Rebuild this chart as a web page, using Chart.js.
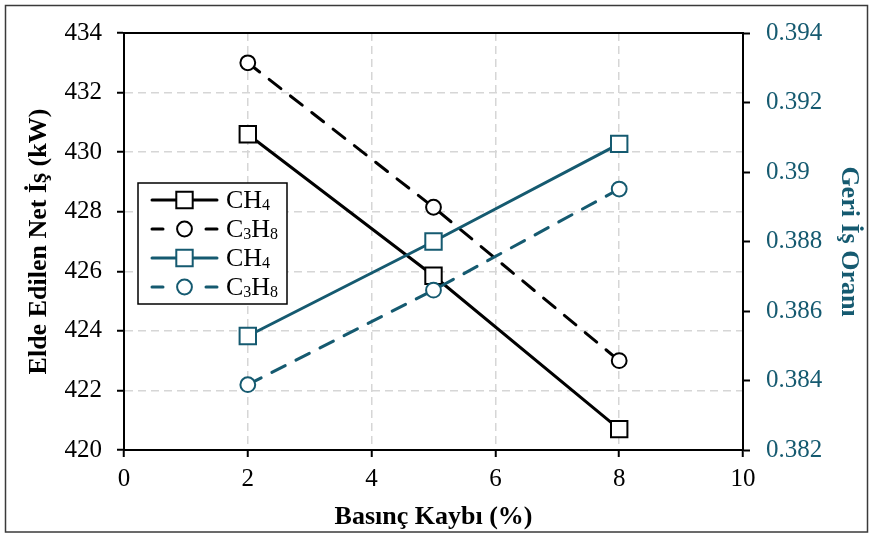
<!DOCTYPE html>
<html lang="tr">
<head>
  <meta charset="utf-8" />
  <title>Basınç Kaybı</title>
  <script src="https://cdn.jsdelivr.net/npm/chart.js@4.4.1/dist/chart.umd.min.js"></script>
  <style>
    html, body { margin: 0; padding: 0; background: #fff; }
    #wrap { position: relative; width: 869px; height: 535px; }
  </style>
</head>
<body>
  <div id="wrap"><canvas id="chart"></canvas></div>

  <script>
    // values
    const pressureLoss = [2, 5, 8];
    const netWorkCH4 = [430.6, 425.85, 420.7];
    const netWorkC3H8 = [433.0, 428.15, 423.0];
    const bwrCH4 = [0.38528, 0.38800, 0.39081];
    const bwrC3H8 = [0.38388, 0.38660, 0.38951];

    const xRange = [0, 10, 2];
    const leftRange = [420, 434, 2];
    const rightRange = [0.382, 0.394, 0.002];

    const BLACK = '#000000';
    const TEAL = '#155a70';
    const SERIF = '"Liberation Serif", "Times New Roman", serif';

    const pts = ys => pressureLoss.map((x, i) => ({ x, y: ys[i] }));

    const series = (label, data, color, axis, style, dashed, order) => ({
      label, data: pts(data), yAxisID: axis, order,
      showLine: true,
      borderColor: color, borderWidth: 3,
      borderDash: dashed ? [15, 12] : [],
      borderCapStyle: 'round',
      pointStyle: style,
      pointRadius: style === 'rect' ? 11.6 : 7.4,
      pointHoverRadius: style === 'rect' ? 11.6 : 7.4,
      pointBackgroundColor: '#fff',
      pointBorderColor: color,
      pointBorderWidth: 2
    });

    const datasets = [
      series('CH₄', netWorkCH4, BLACK, 'y', 'rect', false, 4),
      series('C₃H₈', netWorkC3H8, BLACK, 'y', 'circle', true, 3),
      series('CH₄', bwrCH4, TEAL, 'y2', 'rect', false, 2),
      series('C₃H₈', bwrC3H8, TEAL, 'y2', 'circle', true, 1)
    ];

    // text with subscript digits (₀-₉) drawn smaller and lowered
    const drawChem = (ctx, text, x, y) => {
      const subs = '₀₁₂₃₄₅₆₇₈₉';
      let cx = x;
      for (const ch of text) {
        const k = subs.indexOf(ch);
        if (k >= 0) {
          ctx.font = `16px ${SERIF}`;
          ctx.fillText(String(k), cx, y + 5);
          cx += ctx.measureText(String(k)).width;
        } else {
          ctx.font = `26px ${SERIF}`;
          ctx.fillText(ch, cx, y);
          cx += ctx.measureText(ch).width;
        }
      }
    };

    const framePlugin = {
      id: 'frame',
      beforeDatasetsDraw(chart) {
        const { ctx, chartArea: a } = chart;
        ctx.save();
        ctx.strokeStyle = BLACK;
        ctx.lineWidth = 2;
        ctx.beginPath();
        ctx.moveTo(a.left - 1, a.top);
        ctx.lineTo(a.right + 1, a.top);
        ctx.stroke();
        ctx.restore();
      },
      afterDraw(chart) {
        const { ctx } = chart;
        ctx.save();
        ctx.strokeStyle = '#3a3a3a';
        ctx.lineWidth = 1.5;
        ctx.strokeRect(5.5, 5.5, 862, 526.5);

        // legend box
        const bx = 138, by = 183, bw = 149, bh = 121;
        ctx.fillStyle = '#fff';
        ctx.fillRect(bx, by, bw, bh);
        ctx.strokeStyle = BLACK;
        ctx.lineWidth = 1.5;
        ctx.strokeRect(bx, by, bw, bh);

        chart.data.datasets.forEach((ds, i) => {
          const cy = by + 17 + i * 29;
          ctx.strokeStyle = ds.borderColor;
          ctx.lineWidth = 3;
          ctx.lineCap = 'round';
          ctx.beginPath();
          if (ds.borderDash.length) {
            ctx.moveTo(152, cy); ctx.lineTo(163, cy);
            ctx.moveTo(206, cy); ctx.lineTo(217, cy);
          } else {
            ctx.moveTo(152, cy); ctx.lineTo(217, cy);
          }
          ctx.stroke();
          ctx.fillStyle = '#fff';
          ctx.lineWidth = 2;
          Chart.helpers.drawPoint(ctx, {
            pointStyle: ds.pointStyle, radius: ds.pointRadius, borderWidth: 2
          }, 184.5, cy);
          ctx.fillStyle = BLACK;
          ctx.textBaseline = 'middle';
          ctx.textAlign = 'left';
          drawChem(ctx, ds.label, 226, cy + 1);
        });
        ctx.restore();
      }
    };

    const gridStyle = {
      color: '#d6d6d6', lineWidth: 1.5,
      tickColor: BLACK, tickWidth: 2, tickLength: 7, tickBorderDash: []
    };
    const border = { display: true, color: BLACK, width: 2, dash: [8, 5] };
    const tickFont = { family: SERIF, size: 25 };
    const titleFont = { family: SERIF, size: 26, weight: 'bold' };

    new Chart(document.getElementById('chart'), {
      type: 'scatter',
      data: { datasets },
      options: {
        responsive: true,
        maintainAspectRatio: false,
        animation: false,
        devicePixelRatio: 1,
        layout: { padding: { top: 33, left: 0, right: 0, bottom: 0 } },
        plugins: { legend: { display: false }, tooltip: { enabled: false } },
        scales: {
          x: {
            type: 'linear', position: 'bottom',
            min: xRange[0], max: xRange[1],
            ticks: { stepSize: xRange[2], padding: 7, color: BLACK, font: tickFont },
            grid: gridStyle, border,
            title: {
              display: true, text: 'Basınç Kaybı (%)', color: BLACK,
              font: titleFont, padding: { top: 0, bottom: 2 }
            },
            afterFit: s => { s.height = 85; }
          },
          y: {
            type: 'linear', position: 'left',
            min: leftRange[0], max: leftRange[1],
            ticks: { stepSize: leftRange[2], padding: 15, color: BLACK, font: tickFont },
            grid: gridStyle, border,
            title: {
              display: true, text: 'Elde Edilen Net İş (kW)', color: BLACK,
              font: titleFont, padding: { top: 24, bottom: 0 }
            },
            afterFit: s => { s.width = 124; }
          },
          y2: {
            type: 'linear', position: 'right',
            min: rightRange[0], max: rightRange[1],
            ticks: {
              stepSize: rightRange[2], padding: 16, color: TEAL, font: tickFont,
              callback: v => String(parseFloat(v.toFixed(3)))
            },
            grid: { drawOnChartArea: false, tickColor: BLACK, tickWidth: 2, tickLength: 7 },
            border: { display: true, color: BLACK, width: 2 },
            title: {
              display: true, text: 'Geri İş Oranı', color: TEAL,
              font: titleFont, padding: { top: 5, bottom: 0 }
            },
            afterFit: s => { s.width = 126; }
          }
        }
      },
      plugins: [framePlugin]
    });
  </script>
</body>
</html>
